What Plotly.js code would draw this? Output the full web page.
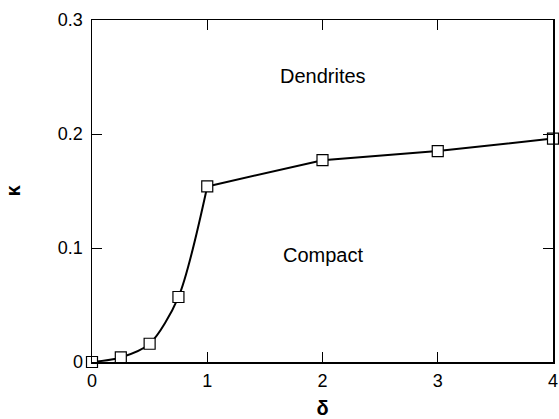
<!DOCTYPE html>
<html>
<head>
<meta charset="utf-8">
<script src="https://cdn.plot.ly/plotly-3.0.1.min.js"></script>
<style>
  html, body { margin: 0; padding: 0; background: #fff; }
  #chart { width: 559px; height: 419px; }
</style>
</head>
<body>
<div id="chart"></div>
<script>
// Morphology boundary: critical kappa versus delta
const deltaLow = [0, 0.25, 0.5, 0.75, 1];
const kappaLow = [0, 0.004, 0.016, 0.057, 0.154];
const deltaHigh = [1, 2, 3, 4];
const kappaHigh = [0.154, 0.177, 0.185, 0.196];

const xTicks = [0, 1, 2, 3, 4];
const xTickText = ['0', '1', '2', '3', '4'];
const yTicks = [0, 0.1, 0.2, 0.3];
const yTickText = ['0', '0.1', '0.2', '0.3'];

const regionLabels = ['Dendrites', 'Compact'];
const regionX = [2, 2];
const regionY = [0.251, 0.094];

const font = 'Liberation Sans, Arial, sans-serif';

const traces = [
  {
    x: deltaLow, y: kappaLow,
    mode: 'lines',
    line: { color: '#000', width: 2, shape: 'spline', smoothing: 0.8 },
    cliponaxis: false,
    hoverinfo: 'skip'
  },
  {
    x: deltaHigh, y: kappaHigh,
    mode: 'lines',
    line: { color: '#000', width: 2 },
    cliponaxis: false,
    hoverinfo: 'skip'
  },
  {
    x: deltaLow.concat(deltaHigh.slice(1)),
    y: kappaLow.concat(kappaHigh.slice(1)),
    mode: 'markers',
    marker: { symbol: 'square', size: 11, color: '#fff', line: { width: 1.2, color: '#000' } },
    cliponaxis: false
  }
];

const axisCommon = {
  ticks: 'inside',
  ticklen: 10,
  tickwidth: 1,
  tickcolor: '#000',
  showline: true,
  linecolor: '#000',
  linewidth: 1.5,
  mirror: 'ticks',
  showgrid: false,
  zeroline: false,
  ticklabeloverflow: 'allow',
  tickfont: { family: font, size: 18 }
};

const layout = {
  width: 559,
  height: 419,
  margin: { l: 92, r: 6, t: 20, b: 57 },
  paper_bgcolor: '#fff',
  plot_bgcolor: '#fff',
  showlegend: false,
  font: { family: font, color: '#000', size: 18 },
  xaxis: Object.assign({}, axisCommon, {
    range: [0, 4],
    tickvals: xTicks,
    ticktext: xTickText,
    ticklabelstandoff: 2,
    title: { text: 'δ', font: { family: font, size: 20, weight: 'bold' }, standoff: 21 }
  }),
  yaxis: Object.assign({}, axisCommon, {
    range: [0, 0.3],
    tickvals: yTicks,
    ticktext: yTickText,
    ticklabelstandoff: 4,
    title: { text: 'κ', font: { family: font, size: 20, weight: 'bold' }, standoff: 32 }
  }),
  annotations: regionLabels.map((t, i) => ({
    x: regionX[i], y: regionY[i],
    xref: 'x', yref: 'y',
    text: t,
    showarrow: false,
    font: { family: font, size: 20, color: '#000' }
  }))
};

Plotly.newPlot('chart', traces, layout, { displayModeBar: false, staticPlot: true });
</script>
</body>
</html>
